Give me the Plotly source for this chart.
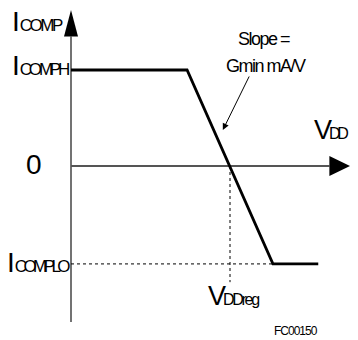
import plotly.graph_objects as go

# transfer curve (x: VDD in arbitrary units, y: ICOMP normalised to ICOMPH)
vdd = [0.0, 1.46, 2.54, 3.11]
icomp = [1.0, 1.0, -1.02, -1.02]
vdd_reg = 2.0
icomp_lo = -1.02

# axis extents
x_axis = [0.0, 3.25]
y_axis = [-1.625, 1.35]
x_tip = 3.51
y_tip = 1.625

# the page body has an 8px margin, so the figure is drawn 8px smaller
OFF = 8
W, H = 358 - OFF, 340 - OFF
x_range = [-0.7925, 3.610]
y_range = [-1.8125, 1.6458]

FONT = "Liberation Sans Narrow, Arial Narrow, Liberation Sans, Arial"


def pp(x, y):
    # window pixel position -> paper coords
    return (x - OFF) / W, 1 - (y - OFF) / H


fig = go.Figure()

# axes
fig.add_trace(
    go.Scatter(
        x=[0, 0], y=y_axis, mode="lines",
        line={"color": "#444444", "width": 1.5}, showlegend=False,
    )
)
fig.add_trace(
    go.Scatter(
        x=x_axis, y=[0, 0], mode="lines",
        line={"color": "#555555", "width": 2}, showlegend=False,
    )
)
# arrow heads
fig.add_trace(
    go.Scatter(
        x=[0, -0.088, 0.088, 0], y=[y_tip, y_axis[1], y_axis[1], y_tip],
        mode="lines", fill="toself", fillcolor="black",
        line={"color": "black", "width": 0}, showlegend=False,
    )
)
fig.add_trace(
    go.Scatter(
        x=[x_tip, x_axis[1], x_axis[1], x_tip], y=[0, 0.105, -0.105, 0],
        mode="lines", fill="toself", fillcolor="black",
        line={"color": "black", "width": 0}, showlegend=False,
    )
)

# dotted guides
fig.add_trace(
    go.Scatter(
        x=[0, vdd[2]], y=[icomp_lo, icomp_lo], mode="lines",
        line={"color": "black", "width": 1, "dash": "dot"}, showlegend=False,
    )
)
fig.add_trace(
    go.Scatter(
        x=[vdd_reg, vdd_reg], y=[0, -1.21], mode="lines",
        line={"color": "black", "width": 1, "dash": "dot"}, showlegend=False,
    )
)

# curve
fig.add_trace(
    go.Scatter(
        x=vdd, y=icomp, mode="lines",
        line={"color": "black", "width": 2.8}, showlegend=False,
    )
)

big = "<span style='letter-spacing:{}px'>{}</span>"
small = "<span style='font-size:{}px;letter-spacing:{}px'>{}</span>"

labels = [
    ("I" + small.format(17, -2.5, "COMP"), 10, 22, "left", 28),
    ("I" + small.format(17, -3.2, "COMPH"), 10, 66, "left", 28),
    ("0", 44, 164, "right", 28),
    ("I" + small.format(17, -3.6, "COMPLO"), 5, 262, "left", 28),
    (big.format(-3, "V") + small.format(16, -3.2, "DD"), 312, 130, "left", 27),
    (big.format(-3, "V") + small.format(16, -2.3, "DDreg"), 206, 296, "left", 27),
    ("<span style='letter-spacing:-1.5px'>Slope =</span>", 264, 39, "center", 18),
    ("<span style='letter-spacing:-1.5px'>Gmin mA/V</span>", 266, 66, "center", 18),
    ("<span style='letter-spacing:-1px'>FC00150</span>", 296, 331, "center", 12),
]

annotations = []
for text, x, y, anchor, size in labels:
    ax, ay = pp(x, y)
    annotations.append(
        dict(
            x=ax, y=ay, xref="paper", yref="paper", text=text,
            showarrow=False, xanchor=anchor, yanchor="middle",
            font={"family": FONT, "size": size, "color": "black"},
        )
    )

# slope pointer
annotations.append(
    dict(
        x=1.91, y=0.375, ax=2.25, ay=0.948, xref="x", yref="y",
        axref="x", ayref="y", text="", showarrow=True,
        arrowhead=2, arrowsize=1.3, arrowwidth=1, arrowcolor="black",
    )
)

fig.update_xaxes(range=x_range, visible=False, fixedrange=True)
fig.update_yaxes(range=y_range, visible=False, fixedrange=True)

fig.update_layout(
    width=W,
    height=H,
    autosize=False,
    margin={"l": 0, "r": 0, "t": 0, "b": 0},
    plot_bgcolor="white",
    paper_bgcolor="white",
    annotations=annotations,
)

fig.write_html("out.html", config={"displayModeBar": False})
